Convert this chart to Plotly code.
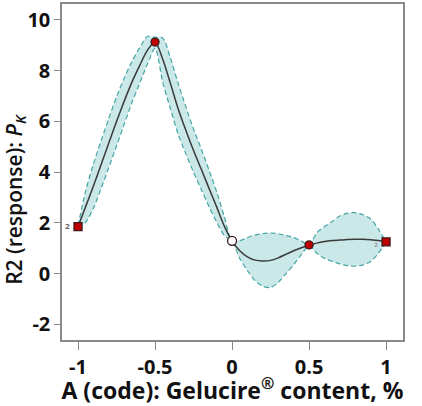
import plotly.graph_objects as go

# Predicted response along factor A (coded)
x_grid = [-1.00, -0.95, -0.90, -0.85, -0.80, -0.75, -0.70, -0.65, -0.60, -0.55,
          -0.50, -0.45, -0.40, -0.35, -0.30, -0.25, -0.20, -0.15, -0.10, -0.05,
          0.00, 0.05, 0.10, 0.15, 0.20, 0.25, 0.30, 0.35, 0.40, 0.45,
          0.50, 0.55, 0.60, 0.65, 0.70, 0.75, 0.80, 0.85, 0.90, 0.95, 1.00]
fit = [1.85, 2.65, 3.45, 4.30, 5.15, 6.00, 6.80, 7.55, 8.20, 8.80,
       9.13, 8.45, 7.50, 6.50, 5.65, 4.85, 4.12, 3.37, 2.63, 1.87,
       1.29, 0.90, 0.66, 0.53, 0.50, 0.52, 0.62, 0.76, 0.90, 1.02,
       1.12, 1.20, 1.26, 1.30, 1.32, 1.34, 1.35, 1.35, 1.33, 1.30, 1.25]
upper = [1.89, 3.27, 4.32, 5.24, 6.12, 6.97, 7.71, 8.36, 8.90, 9.35,
         9.32, 9.28, 8.50, 7.50, 6.58, 5.70, 4.92, 4.09, 3.23, 2.24,
         1.31, 1.30, 1.42, 1.52, 1.58, 1.60, 1.57, 1.50, 1.42, 1.28,
         1.13, 1.60, 1.85, 2.05, 2.27, 2.38, 2.40, 2.32, 2.15, 1.75, 1.25]
lower = [1.81, 2.03, 2.58, 3.36, 4.18, 5.03, 5.89, 6.74, 7.50, 8.25,
         8.88, 7.55, 6.50, 5.50, 4.72, 4.00, 3.32, 2.65, 2.03, 1.50,
         1.27, 0.60, 0.12, -0.28, -0.50, -0.55, -0.35, 0.00, 0.35, 0.75,
         1.10, 0.80, 0.60, 0.48, 0.38, 0.31, 0.29, 0.34, 0.48, 0.80, 1.24]

# Design points
pt_x = [-1.0, -0.5, 0.0, 0.5, 1.0]
pt_y = [1.85, 9.13, 1.29, 1.13, 1.25]
pt_symbol = ["square", "circle", "circle", "circle", "square"]
pt_color = ["#c00000", "#c00000", "#ffffff", "#c00000", "#c00000"]
pt_size = [8, 8, 9, 8, 8]

x_ticks = [-1, -0.5, 0, 0.5, 1]
x_ticktext = ["-1", "-0.5", "0", "0.5", "1"]
y_ticks = [-2, 0, 2, 4, 6, 8, 10]
y_ticktext = ["-2", "0", "2", "4", "6", "8", "10"]

band_line = dict(color="#45a5a5", width=1.2, dash="5px,3px", shape="spline", smoothing=0.8)

fig = go.Figure()
fig.add_trace(go.Scatter(x=x_grid, y=lower, mode="lines", line=band_line,
                         hoverinfo="skip", showlegend=False))
fig.add_trace(go.Scatter(x=x_grid, y=upper, mode="lines", line=band_line,
                         fill="tonexty", fillcolor="rgba(180,222,222,0.7)",
                         hoverinfo="skip", showlegend=False))
fig.add_trace(go.Scatter(x=x_grid, y=fit, mode="lines",
                         line=dict(color="#3a3a3a", width=1.5, shape="spline", smoothing=0.8),
                         showlegend=False))
fig.add_trace(go.Scatter(x=pt_x, y=pt_y, mode="markers",
                         marker=dict(symbol=pt_symbol, color=pt_color, size=pt_size,
                                     opacity=1,
                                     line=dict(color="#3a1a1a", width=1.3)),
                         showlegend=False))

fig.add_annotation(x=-1, y=1.85, text="2", showarrow=False, xshift=-11,
                   font=dict(size=7, color="#666666", family="DejaVu Sans"))
fig.add_annotation(x=1, y=1.25, text="2", showarrow=False, xshift=-10, yshift=-3,
                   font=dict(size=6, color="#999999", family="DejaVu Sans"))

tick_font = dict(family="Open Sans", size=20, color="#111111", weight="bold")

# Y axis title placed to match the reference
fig.add_annotation(xref="paper", yref="paper", x=-0.138, y=0.42,
                   xanchor="center", yanchor="middle", showarrow=False, textangle=-90,
                   text="R2 (response): <i>P<sub>K</sub></i>",
                   font=dict(family="Open Sans", size=21, color="#111111", weight=600))

fig.update_layout(
    width=422, height=406,
    margin=dict(l=62, r=19, t=2, b=66),
    paper_bgcolor="white", plot_bgcolor="white",
    font=tick_font,
    xaxis=dict(range=[-1.104, 1.11], tickvals=x_ticks, ticktext=x_ticktext,
               ticks="outside", ticklen=8, tickcolor="#888888", tickwidth=1.3,
               showline=True, linecolor="#8a8a8a", linewidth=1.5, mirror=True,
               showgrid=False, zeroline=False, tickfont=tick_font,
               title=dict(text="A (code): Gelucire<sup>®</sup> content, %", standoff=4,
                          font=dict(family="Open Sans", size=23, color="#111111",
                                    weight="bold"))),
    yaxis=dict(range=[-2.62, 10.63], tickvals=y_ticks, ticktext=y_ticktext,
               ticks="outside", ticklen=6, tickcolor="#888888", tickwidth=1.3,
               showline=True, linecolor="#8a8a8a", linewidth=1.5, mirror=True,
               showgrid=False, zeroline=False, tickfont=tick_font),
)

fig.write_html("out.html")
